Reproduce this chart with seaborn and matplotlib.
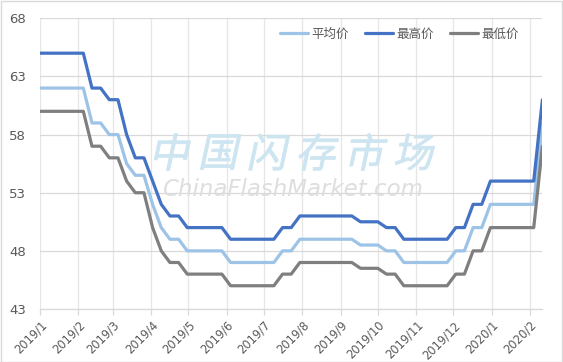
import numpy as np
import pandas as pd
import matplotlib
matplotlib.use("Agg")
import matplotlib.pyplot as plt
import seaborn as sns
from matplotlib.patches import Rectangle, PathPatch
from matplotlib.textpath import TextPath
from matplotlib.font_manager import FontProperties
from matplotlib.transforms import Affine2D, IdentityTransform

# ---------------- data ----------------
dates = pd.date_range("2019-01-01", periods=59, freq="7D")

avg_price = [62, 62, 62, 62, 62, 62, 59, 59, 58, 58,
             55.5, 54.5, 54.5, 52, 50, 49, 49, 48, 48, 48,
             48, 48, 47, 47, 47, 47, 47, 47, 48, 48,
             49, 49, 49, 49, 49, 49, 49, 48.5, 48.5, 48.5,
             48, 48, 47, 47, 47, 47, 47, 47, 48, 48,
             50, 50, 52, 52, 52, 52, 52, 52, 59]
high_price = [65, 65, 65, 65, 65, 65, 62, 62, 61, 61,
              58, 56, 56, 54, 52, 51, 51, 50, 50, 50,
              50, 50, 49, 49, 49, 49, 49, 49, 50, 50,
              51, 51, 51, 51, 51, 51, 51, 50.5, 50.5, 50.5,
              50, 50, 49, 49, 49, 49, 49, 49, 50, 50,
              52, 52, 54, 54, 54, 54, 54, 54, 61]
low_price = [60, 60, 60, 60, 60, 60, 57, 57, 56, 56,
             54, 53, 53, 50, 48, 47, 47, 46, 46, 46,
             46, 46, 45, 45, 45, 45, 45, 45, 46, 46,
             47, 47, 47, 47, 47, 47, 47, 46.5, 46.5, 46.5,
             46, 46, 45, 45, 45, 45, 45, 45, 46, 46,
             48, 48, 50, 50, 50, 50, 50, 50, 57]

series_names = ["平均价", "最高价", "最低价"]
series_colors = ["#9DC3E6", "#4472C4", "#7F7F7F"]

tick_dates = pd.date_range("2019-01-01", "2020-02-01", freq="MS")
tick_labels = ["2019/1", "2019/2", "2019/3", "2019/4", "2019/5", "2019/6",
               "2019/7", "2019/8", "2019/9", "2019/10", "2019/11", "2019/12",
               "2020/1", "2020/2"]
y_ticks = [43, 48, 53, 58, 63, 68]

df = pd.DataFrame({
    "date": np.tile(dates, 3),
    "price": avg_price + high_price + low_price,
    "series": np.repeat(series_names, len(dates)),
})

# ---------------- style ----------------
sns.set_theme(style="white")
plt.rcParams["font.family"] = ["DejaVu Sans", "Noto Sans CJK SC"]
plt.rcParams["lines.solid_joinstyle"] = "round"

W, H = 563, 362
fig = plt.figure(figsize=(W / 100, H / 100), dpi=100)
ax = fig.add_axes([40 / W, 1 - 309 / H, (542.4 - 40) / W, (309 - 18.3) / H])

# watermark (behind the lines), skewed like an italic logo
wm_cn = "中国闪存市场"
cn_prop = FontProperties(family="Noto Sans CJK SC", weight="medium")
for i, ch in enumerate(wm_cn):
    tp = TextPath((0, 0), ch, size=40, prop=cn_prop)
    bb = tp.get_extents()
    cx = 172 + i * 48.7
    cy = H - 152
    tr = (Affine2D().translate(-(bb.x0 + bb.x1) / 2, -(bb.y0 + bb.y1) / 2)
          .skew_deg(12, 0).translate(cx, cy))
    patch = PathPatch(tr.transform_path(tp), transform=IdentityTransform(),
                      facecolor="#CDE5F1", edgecolor="#CDE5F1", linewidth=0.6,
                      zorder=0)
    fig.patches.append(patch)
fig.text(292 / W, 1 - 189 / H, "ChinaFlashMarket.com", fontsize=16.5,
         style="italic", color="#DEDEDE", ha="center", va="center", zorder=0)
ax.set_facecolor("none")

sns.lineplot(data=df, x="date", y="price", hue="series",
             palette=dict(zip(series_names, series_colors)),
             hue_order=series_names, linewidth=2.3, ax=ax, legend=True)

ax.set_xlim(dates[0], dates[-1])
ax.set_ylim(43, 68)
ax.set_yticks(y_ticks)
ax.set_yticklabels([str(v) for v in y_ticks], fontsize=9.5, color="#595959")
ax.set_xticks(tick_dates)
ax.set_xticklabels(tick_labels, rotation=45, ha="right",
                   rotation_mode="anchor", fontsize=8.3, color="#595959")
ax.set_xlabel("")
ax.set_ylabel("")

ax.grid(True, axis="y", color="#D9D9D9", linewidth=0.9)
ax.grid(True, axis="x", color="#E6E6E6", linewidth=0.9)
ax.set_axisbelow(True)
for s in ["top", "right", "left"]:
    ax.spines[s].set_visible(False)
ax.spines["bottom"].set_color("#D9D9D9")
ax.spines["bottom"].set_linewidth(0.9)
ax.tick_params(axis="x", which="major", length=4, width=0.9,
               color="#D9D9D9", bottom=True, pad=3)
ax.tick_params(axis="y", length=0, pad=10)

leg = ax.legend(loc="center", bbox_to_anchor=(399.4 / W, 1 - 34 / H),
                bbox_transform=fig.transFigure, ncol=3, frameon=False,
                fontsize=9, handlelength=2.2, handletextpad=0.3,
                columnspacing=1.3, borderpad=0)
for t in leg.get_texts():
    t.set_color("#595959")

fig.patches.append(Rectangle((0.5 / W, 0.5 / H), 1 - 1.5 / W, 1 - 1.5 / H,
                             transform=fig.transFigure, fill=False,
                             edgecolor="#D9D9D9", linewidth=1))

fig.savefig("out.png", dpi=100)
